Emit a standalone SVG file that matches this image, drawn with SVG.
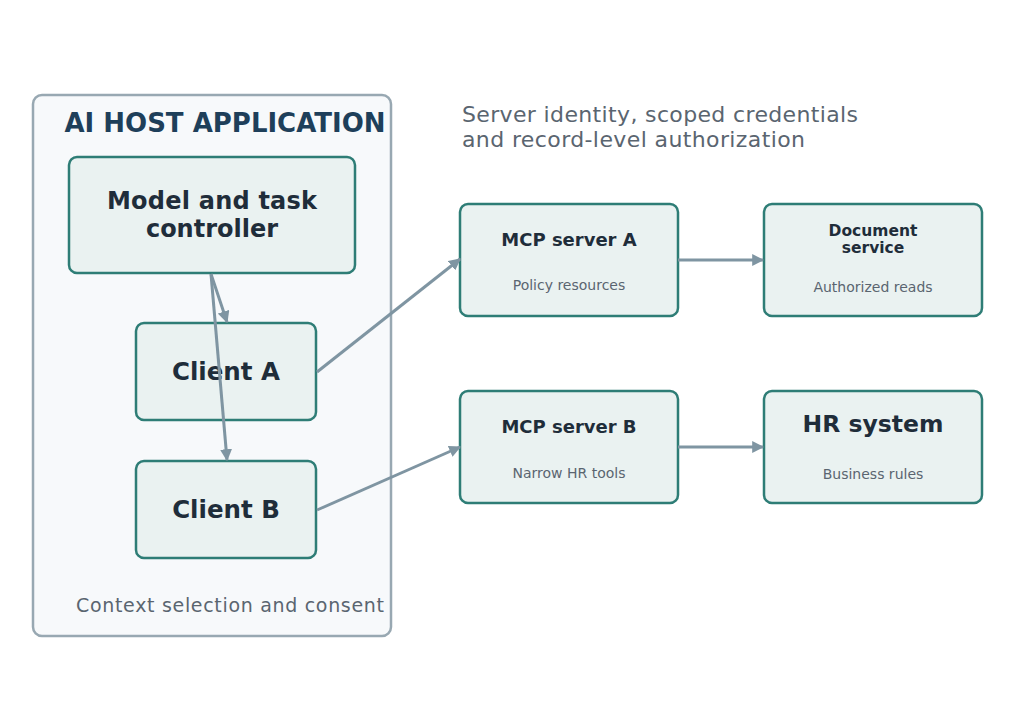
<svg xmlns="http://www.w3.org/2000/svg" width="1024" height="710" viewBox="0 0 1024 710">
<style>
text{font-family:"DejaVu Sans",sans-serif;}
.n{fill:#eaf2f1;stroke:#2e7d76;stroke-width:2.5;}
.t{font-weight:bold;fill:#1f2d3a;text-anchor:middle;}
.s{font-size:14px;fill:#5a6570;text-anchor:middle;}
.c{stroke:#7f95a2;stroke-width:3;fill:none;marker-end:url(#a);}
</style>
<defs><marker id="a" viewBox="0 0 10 10" refX="9" refY="5" markerWidth="4" markerHeight="4" orient="auto" markerUnits="strokeWidth"><path d="M0,0L10,5L0,10z" fill="#7f95a2"/></marker></defs>
<rect width="1024" height="710" fill="#fff"/>
<g id="host">
<rect x="33" y="95" width="358" height="541" rx="9" fill="#f7f9fb" stroke="#98a8b2" stroke-width="2.5"/>
<text x="225" y="132" font-size="26" font-weight="bold" fill="#1e3f5a" text-anchor="middle">AI HOST APPLICATION</text>
<text x="230" y="612" font-size="19" fill="#5a6570" text-anchor="middle" textLength="308">Context selection and consent</text>
</g>
<text x="462" y="122" font-size="22" fill="#5a6570" textLength="396">Server identity, scoped credentials</text>
<text x="462" y="147" font-size="22" fill="#5a6570" textLength="343">and record-level authorization</text>
<g id="controller"><rect class="n" x="69" y="157" width="286" height="116" rx="8"/>
<text class="t" x="212" y="209" font-size="24" textLength="210">Model and task</text><text class="t" x="212" y="237" font-size="24">controller</text></g>
<g id="clientA"><rect class="n" x="136" y="323" width="180" height="97" rx="8"/><text class="t" x="226" y="380" font-size="24.5">Client A</text></g>
<g id="clientB"><rect class="n" x="136" y="461" width="180" height="97" rx="8"/><text class="t" x="226" y="518" font-size="24.5">Client B</text></g>
<g id="serverA"><rect class="n" x="460" y="204" width="218" height="112" rx="8"/><text class="t" x="569" y="246" font-size="18">MCP server A</text><text class="s" x="569" y="290">Policy resources</text></g>
<g id="serverB"><rect class="n" x="460" y="391" width="218" height="112" rx="8"/><text class="t" x="569" y="433" font-size="18">MCP server B</text><text class="s" x="569" y="478">Narrow HR tools</text></g>
<g id="doc"><rect class="n" x="764" y="204" width="218" height="112" rx="8"/><text class="t" x="873" y="236" font-size="15.5">Document</text><text class="t" x="873" y="253" font-size="15.5">service</text><text class="s" x="873" y="292">Authorized reads</text></g>
<g id="hr"><rect class="n" x="764" y="391" width="218" height="112" rx="8"/><text class="t" x="873" y="432" font-size="23.5">HR system</text><text class="s" x="873" y="479">Business rules</text></g>
<g id="connectors">
<line class="c" x1="211" y1="274" x2="227" y2="322"/>
<line class="c" x1="211" y1="274" x2="227" y2="460"/>
<line class="c" x1="317" y1="372" x2="460" y2="259"/>
<line class="c" x1="317" y1="510" x2="460" y2="447"/>
<line class="c" x1="678" y1="260" x2="763" y2="260"/>
<line class="c" x1="678" y1="447" x2="763" y2="447"/>
</g>
</svg>
